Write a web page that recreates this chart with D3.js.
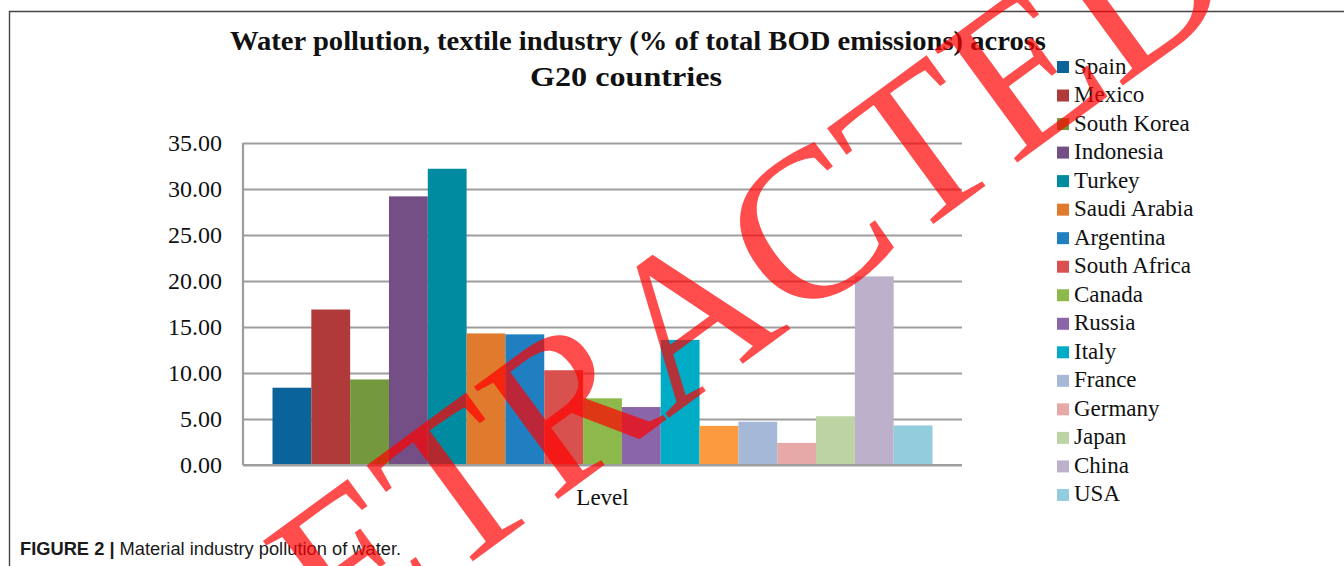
<!DOCTYPE html>
<html>
<head>
<meta charset="utf-8">
<script src="https://cdn.jsdelivr.net/npm/d3@7"></script>
<style>
  html, body { margin: 0; padding: 0; background: #ffffff; }
  svg { display: block; }
</style>
</head>
<body>
<svg id="chart" width="1344" height="566"></svg>
<script>
// ---- data ----
const titleLines = ["Water pollution, textile industry (% of total BOD emissions) across", "G20 countries"];
const categories = ["Level"];
const seriesNames = ["Spain", "Mexico", "South Korea", "Indonesia", "Turkey", "Saudi Arabia", "Argentina",
  "South Africa", "Canada", "Russia", "Italy", "", "France", "Germany", "Japan", "China", "USA"];
const seriesValues = [8.4, 16.9, 9.3, 29.2, 32.2, 14.3, 14.2, 10.3, 7.25, 6.3, 13.6, 4.25, 4.7, 2.4, 5.3, 20.5, 4.3];
const seriesColors = ["#0a6399", "#b03a3a", "#73983d", "#734f85", "#008ba0", "#e07a2d", "#1f7fc0",
  "#d9514e", "#8db84a", "#8a66a8", "#00abc6", "#fb9a3e", "#a5b8d8", "#e6a9a8", "#bcd4a4", "#bdb0cb", "#93ccdc"];
const yTicks = [0, 5, 10, 15, 20, 25, 30, 35];
const captionBold = "FIGURE 2 |";
const captionText = " Material industry pollution of water.";
const watermark = "RETRACTED";

const svg = d3.select("#chart");
const serif = "'Liberation Serif', 'Times New Roman', serif";

// frame
svg.append("path").attr("d", "M9.5,566 V11.5 H1344").attr("fill", "none")
  .attr("stroke", "#444").attr("stroke-width", 1.4);

// scales
const plot = { left: 243, right: 962, top: 143, bottom: 465 };
const y = d3.scaleLinear().domain([0, 35]).range([plot.bottom, plot.top]);
const x0 = d3.scaleBand().domain(categories).range([plot.left, plot.right]).paddingInner(0).paddingOuter(0.0447);
const x1 = d3.scaleBand().domain(d3.range(seriesNames.length)).range([0, x0.bandwidth()]);

// gridlines + y axis
const yAxis = d3.axisLeft(y).tickValues(yTicks).tickFormat(d3.format(".2f"))
  .tickSize(-(plot.right - plot.left)).tickPadding(20);
const gy = svg.append("g").attr("transform", `translate(${plot.left},0)`).call(yAxis);
gy.select(".domain").remove();
gy.selectAll(".tick line").attr("stroke", "#9d9d9d").attr("stroke-width", 2.2);
gy.selectAll(".tick text").attr("font-family", serif).attr("font-size", 24)
  .attr("fill", "#111").attr("dy", "0.33em").attr("x", -21);
svg.append("line").attr("x1", plot.left).attr("x2", plot.left).attr("y1", plot.top).attr("y2", plot.bottom)
  .attr("stroke", "#9d9d9d").attr("stroke-width", 2.2);

// bars
const gBars = svg.append("g");
categories.forEach(cat => {
  gBars.selectAll("rect.bar").data(seriesValues).join("rect").attr("class", "bar")
    .attr("x", (d, i) => x0(cat) + x1(i))
    .attr("width", x1.bandwidth())
    .attr("y", d => y(d))
    .attr("height", d => y(0) - y(d))
    .attr("fill", (d, i) => seriesColors[i]);
});

// x axis (category label)
const xAxis = d3.axisBottom(x0).tickSize(0).tickPadding(30);
const gx = svg.append("g").attr("transform", `translate(0,${plot.bottom})`).call(xAxis);
gx.select(".domain").remove();
gx.selectAll(".tick text").attr("font-family", serif).attr("font-size", 23).attr("fill", "#111").attr("dy", "0.45em");
svg.append("line").attr("x1", plot.left).attr("x2", plot.right).attr("y1", plot.bottom).attr("y2", plot.bottom)
  .attr("stroke", "#9d9d9d").attr("stroke-width", 2.2);

// title
const title = svg.append("g").attr("font-family", serif).attr("font-weight", "bold").attr("fill", "#111")
  .attr("text-anchor", "middle");
title.append("text").attr("x", 638).attr("y", 50).attr("font-size", 27.5)
  .attr("textLength", 816).attr("lengthAdjust", "spacingAndGlyphs").text(titleLines[0]);
title.append("text").attr("x", 626).attr("y", 86).attr("font-size", 27.5)
  .attr("textLength", 192).attr("lengthAdjust", "spacingAndGlyphs").text(titleLines[1]);

// legend
const legendItems = seriesNames.map((n, i) => ({ name: n, color: seriesColors[i] })).filter(d => d.name !== "");
const lg = svg.append("g").attr("transform", "translate(1057,61)");
const li = lg.selectAll("g").data(legendItems).join("g")
  .attr("transform", (d, i) => `translate(0,${i * 28.53})`);
li.append("rect").attr("width", 12).attr("height", 12).attr("fill", d => d.color);
li.append("text").attr("x", 17).attr("y", 12.5).attr("font-family", serif).attr("font-size", 23)
  .attr("fill", "#111").text(d => d.name);

// caption
const cap = svg.append("text").attr("x", 20).attr("y", 555).attr("font-family", "'Liberation Sans', Arial, sans-serif")
  .attr("font-size", 18.3).attr("fill", "#1a1a1a");
cap.append("tspan").attr("font-weight", "bold").text(captionBold);
cap.append("tspan").text(captionText);

// watermark
svg.append("text").attr("transform", "translate(734,370) rotate(-36.2)")
  .attr("text-anchor", "middle").attr("y", 0)
  .attr("font-family", serif).attr("font-size", 214)
  .attr("fill", "#ff0000").attr("fill-opacity", 0.7).text(watermark);
</script>
</body>
</html>
